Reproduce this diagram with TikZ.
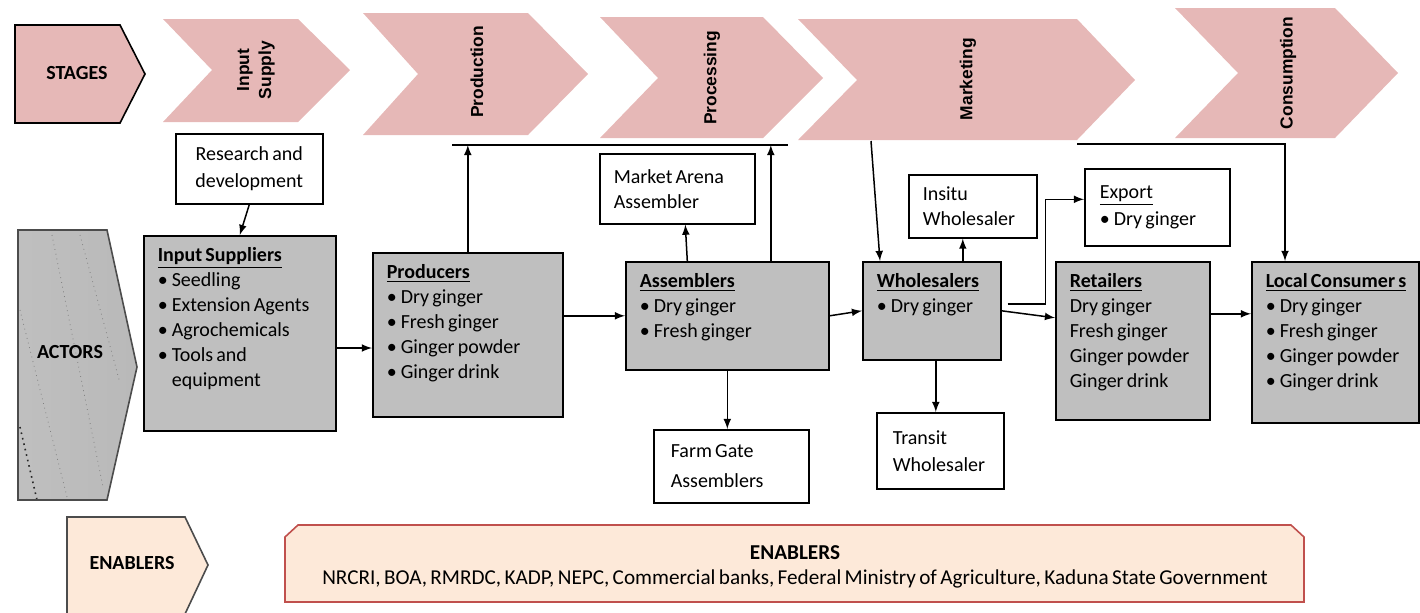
\documentclass[tikz,border=0pt]{standalone}
\usepackage{fontspec}
\setmainfont{Carlito}[WordSpace=0.7]
\newfontfamily\stagefont{Liberation Sans}
\usetikzlibrary{arrows}

\definecolor{stagepink}{RGB}{230,184,183}
\definecolor{actgray}{RGB}{191,191,191}
\definecolor{enbpeach}{RGB}{253,233,217}
\definecolor{enbred}{RGB}{192,80,77}

\newcommand{\actfont}{\fontsize{10}{12.5}\selectfont}
\newcommand{\itm}{\makebox[7pt][l]{\textbullet}}
\newcommand{\actcell}[3]{\begin{minipage}[t][#2][t]{#1}#3\end{minipage}}

\tikzset{
  actor/.style={draw, line width=0.8pt, fill=actgray, anchor=north west,
    inner xsep=7pt, inner ysep=6pt, font=\actfont},
  plain/.style={draw, line width=0.8pt, fill=white, anchor=north west,
    align=flush left, inner xsep=7pt, inner ysep=0pt, font=\actfont},
  stage/.style={rotate=90, align=center,
    font=\stagefont\bfseries\fontsize{8.7}{11}\selectfont},
  arr/.style={->, >=latex, line width=0.75pt},
}

\begin{document}
\begin{tikzpicture}[x=0.5pt, y=-0.5pt]
  \useasboundingbox (0,0) rectangle (1420,612);
  \clip (0,0) rectangle (1420,612);

  % stages
  \draw[fill=stagepink, line width=0.8pt] (15,25) -- (120,25) -- (145,74) -- (120,123) -- (15,123) -- cycle;
  \node[font=\bfseries\actfont] (stg) at (77,73) {STAGES};
  \fill[stagepink] (163,19) -- (298,19) -- (350,70) -- (298,122) -- (163,122) -- (212,70) -- cycle;
  \fill[stagepink] (363,13) -- (528,13) -- (588,74) -- (528,135) -- (363,135) -- (418,74) -- cycle;
  \fill[stagepink] (600,17) -- (763,17) -- (823,78) -- (763,138) -- (600,138) -- (658,78) -- cycle;
  \fill[stagepink] (798,19) -- (1077,19) -- (1135,80) -- (1077,140) -- (798,140) -- (857,80) -- cycle;
  \fill[stagepink] (1175,8) -- (1335,8) -- (1398,73) -- (1335,138) -- (1175,138) -- (1238,73) -- cycle;
  \node[stage] (inpsup) at (256,70) {Input\\Supply};
  \node[stage] (produc) at (477,72) {Production};
  \node[stage] (proces) at (712,78) {Processing};
  \node[stage] (market) at (968,79) {Marketing};
  \node[stage] (consum) at (1288,73) {Consumption};

  % actors
  \shade[left color=gray!50, middle color=gray!5, right color=gray!55]
    (18,230) -- (107,230) -- (137,367) -- (107,500) -- (18,500) -- cycle;
  \draw[dotted, gray] (52,235) -- (103,487);
  \draw[dotted, gray] (80,235) -- (120,383);
  \draw[dotted, gray] (20,310) -- (67,497);
  \draw[dotted, gray!30!black, thick] (20,427) -- (37,500);
  \draw[gray!60!black, line width=0.8pt] (18,230) -- (107,230) -- (137,367) -- (107,500) -- (18,500) -- cycle;
  \node[font=\bfseries\actfont] (act) at (70,352) {ACTORS};

  \node[plain, align=flush center, text width=59.5pt, minimum height=35pt] (rnd) at (175,133) {Research and\\[1pt]development};
  \node[actor] (inp) at (143,235) {\actcell{82pt}{85.5pt}{\underline{\textbf{Input Suppliers}}\\
    \itm Seedling\\ \itm Extension Agents\\ \itm Agrochemicals\\ \itm Tools and\\ \hspace*{7pt}equipment}};
  \node[actor] (prod) at (372,252) {\actcell{81pt}{70pt}{\underline{\textbf{Producers}}\\
    \itm Dry ginger\\ \itm Fresh ginger\\ \itm Ginger powder\\ \itm Ginger drink}};
  \node[plain, text width=63.5pt, minimum height=35pt] (mkt) at (599,153) {Market Arena\\Assembler};
  \node[actor] (asm) at (625,261) {\actcell{87.5pt}{42pt}{\underline{\textbf{Assemblers}}\\
    \itm Dry ginger\\ \itm Fresh ginger}};
  \node[plain, inner xsep=8.5pt, text width=60.5pt, minimum height=36.5pt] (farm) at (653,429) {Farm Gate\\[2.5pt]Assemblers};
  \node[actor] (whl) at (862,261) {\actcell{55pt}{37pt}{\underline{\textbf{Wholesalers}}\\
    \itm Dry ginger}};
  \node[plain, text width=50pt, minimum height=31.5pt] (ins) at (908,174) {Insitu\\Wholesaler};
  \node[plain, inner xsep=8pt, text width=47.5pt, minimum height=38pt] (trn) at (876,412) {Transit\\[1pt]Wholesaler};
  \node[plain, inner xsep=7.5pt, text width=57.5pt, minimum height=38.5pt] (exp) at (1084,168) {\underline{Export}\\[1pt]\itm Dry ginger};
  \node[actor] (ret) at (1055,261) {\actcell{63pt}{67pt}{\underline{\textbf{Retailers}}\\
    Dry ginger\\ Fresh ginger\\ Ginger powder\\ Ginger drink}};
  \node[actor] (loc) at (1251,261) {\actcell{69.5pt}{68.5pt}{\underline{\textbf{Local Consumer s}}\\
    \itm Dry ginger\\ \itm Fresh ginger\\ \itm Ginger powder\\ \itm Ginger drink}};

  % links
  \coordinate (ptopL) at (452,145);
  \coordinate (ptopR) at (788,145);
  \coordinate (mkgfoot) at (871,141);
  \coordinate (cfoot) at (1077,144);
  \coordinate (rl) at ([yshift=13.5pt]ret.east);
  \draw[line width=0.75pt] (ptopL) -- (ptopR);
  \draw[arr] (rnd.south) -- (inp.north);
  \draw[arr] (inp.east |- 0,348) -- (prod.west |- 0,348);
  \draw[arr] (prod.north) -- (prod.north |- ptopL);
  \draw[arr] (prod.east |- asm.west) -- (asm.west);
  \draw[arr] ([xshift=21.75pt]asm.north) -- ([xshift=21.75pt]asm.north |- ptopL);
  \draw[arr] ([xshift=-20pt]asm.north) -- ([xshift=4pt]mkt.south);
  \draw[arr] (asm.south) -- (asm.south |- farm.north);
  \draw[arr] (asm.east) -- (whl.west);
  \draw[arr] (mkgfoot) -- ([xshift=9pt]whl.north west);
  \draw[arr] ([xshift=-5pt]ins.south |- whl.north) -- ([xshift=-5pt]ins.south);
  \draw[arr] ([xshift=2pt]whl.south) -- ([xshift=2pt]whl.south |- trn.north);
  \draw[arr] ([shift={(3pt,3.5pt)}]whl.east) -- ++(19pt,0) |- ([yshift=4pt]exp.west);
  \draw[arr] (whl.east) -- ([yshift=11.5pt]ret.west);
  \draw[arr] (rl) -- (rl -| loc.west);
  \draw[arr] (cfoot) -| ([xshift=17pt]loc.north west);

  % enablers
  \draw[fill=enbpeach, draw=gray!60!black, line width=0.8pt] (67,614) -- (67,517) -- (185,517) -- (208,565) -- (185,614);
  \node[font=\bfseries\actfont] (enb) at (132,563) {ENABLERS};
  \draw[fill=enbpeach, draw=enbred, line width=0.8pt] (285,602) -- (285,537) -- (298,525) -- (1291,525) -- (1304,537) -- (1304,602) -- cycle;
  \node[align=center, font=\fontsize{10.6}{12.5}\selectfont] (enbtxt) at (795,567) {\textbf{ENABLERS}\\
    NRCRI, BOA, RMRDC, KADP, NEPC, Commercial banks, Federal Ministry of Agriculture, Kaduna State Government};
\end{tikzpicture}
\end{document}
